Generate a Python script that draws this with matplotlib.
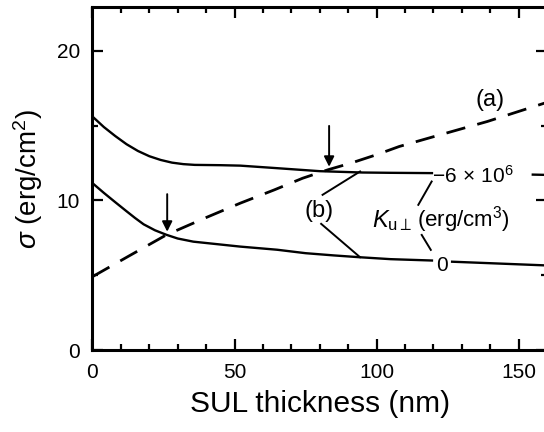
import matplotlib
matplotlib.use("Agg")
import matplotlib.pyplot as plt

plt.rcParams['font.family'] = ['Liberation Sans', 'DejaVu Sans']
plt.rcParams['mathtext.fontset'] = 'custom'
plt.rcParams['mathtext.rm'] = 'Liberation Sans'
plt.rcParams['mathtext.it'] = 'Liberation Sans:italic'
plt.rcParams['mathtext.sf'] = 'Liberation Sans'

# data (x = SUL thickness in nm, y = sigma in erg/cm2)
# (a) dashed curve
thick_a = [0, 13, 26, 40, 52, 64, 74, 83, 91, 100, 108, 120, 139, 160]
sigma_a = [4.9, 6.3, 7.69, 8.85, 9.81, 10.7, 11.48, 12.05, 12.49, 13.05, 13.6, 14.25, 15.27, 16.55]

# (b) Ku = -6e6 erg/cm3, left of its label and right of it
thick_b6 = [0, 4, 8, 12, 16, 20, 24, 28, 32, 36, 45, 52, 65, 80, 95, 105, 119.5]
sigma_b6 = [15.6, 14.9, 14.3, 13.75, 13.3, 12.95, 12.7, 12.52, 12.42, 12.37, 12.35, 12.32, 12.15, 11.95, 11.86, 11.84, 11.82]
thick_b6_r = [155, 160]
sigma_b6_r = [11.72, 11.7]

# (b) Ku = 0
thick_b0 = [0, 4, 8, 12, 15, 18, 22, 26, 30, 35.5, 45, 52, 65, 75, 85, 94, 105, 119.5]
sigma_b0 = [11.15, 10.5, 9.88, 9.27, 8.82, 8.4, 8.0, 7.7, 7.45, 7.24, 7.05, 6.91, 6.7, 6.47, 6.32, 6.2, 6.07, 5.98]
thick_b0_r = [126.6, 140, 160]
sigma_b0_r = [5.9, 5.8, 5.65]

fig = plt.figure(figsize=(5.44, 4.32), dpi=100)
ax = fig.add_axes([0.170, 0.1898, 0.8355, 0.7933])

lw = 1.7
ax.plot(thick_a, sigma_a, color='k', lw=2.0, dashes=(7, 4.5))
ax.plot(thick_b6, sigma_b6, color='k', lw=lw)
ax.plot(thick_b6_r, sigma_b6_r, color='k', lw=lw)
ax.plot(thick_b0, sigma_b0, color='k', lw=lw)
ax.plot(thick_b0_r, sigma_b0_r, color='k', lw=lw)

# arrows at the crossings
ax.annotate('', xy=(26.3, 7.72), xytext=(26.3, 10.6),
            arrowprops=dict(arrowstyle='-|>', color='k', lw=1.4, mutation_scale=15))
ax.annotate('', xy=(83.3, 12.06), xytext=(83.3, 15.16),
            arrowprops=dict(arrowstyle='-|>', color='k', lw=1.4, mutation_scale=15))

# leader lines from (b)
ax.plot([81, 94.2], [10.37, 11.93], color='k', lw=1.4)
ax.plot([80.5, 94.2], [8.43, 6.2], color='k', lw=1.4)
# leader lines between the Ku labels
ax.plot([119.4, 114.7], [11.26, 9.7], color='k', lw=1.4)
ax.plot([115.9, 119.1], [7.69, 6.69], color='k', lw=1.4)

ax.text(140, 16.72, '(a)', fontsize=17, ha='center', va='center')
ax.text(79.8, 9.31, '(b)', fontsize=17, ha='center', va='center')
ax.text(119.6, 11.15, r'$-6\,\times\,10^6$', fontsize=15, ha='left', va='baseline')
ax.text(98.3, 8.23, r'$K_{\mathrm{u}\perp}$', fontsize=17, ha='left', va='baseline')
ax.text(114.3, 8.23, r'(erg/cm$^3$)', fontsize=16, ha='left', va='baseline')
ax.text(123.2, 5.25, '0', fontsize=15, ha='center', va='baseline')

ax.set_xlim(0, 160)
ax.set_ylim(0, 22.9)
ax.set_xticks([0, 50, 100, 150])
ax.set_xticks(range(0, 161, 10), minor=True)
ax.set_yticks([0, 10, 20])
ax.set_yticks([5, 15], minor=True)

for s in ax.spines.values():
    s.set_linewidth(2.2)
ax.tick_params(which='both', direction='in', top=True, right=True, labelsize=15, width=1.6)
ax.tick_params(which='major', length=8, pad=9)
ax.tick_params(which='minor', length=4)

ax.set_xlabel('SUL thickness (nm)', fontsize=21.5, labelpad=6)
ax.set_ylabel(r'$\sigma$ (erg/cm$^2$)', fontsize=20, labelpad=8)

fig.savefig('out.png', dpi=100)
